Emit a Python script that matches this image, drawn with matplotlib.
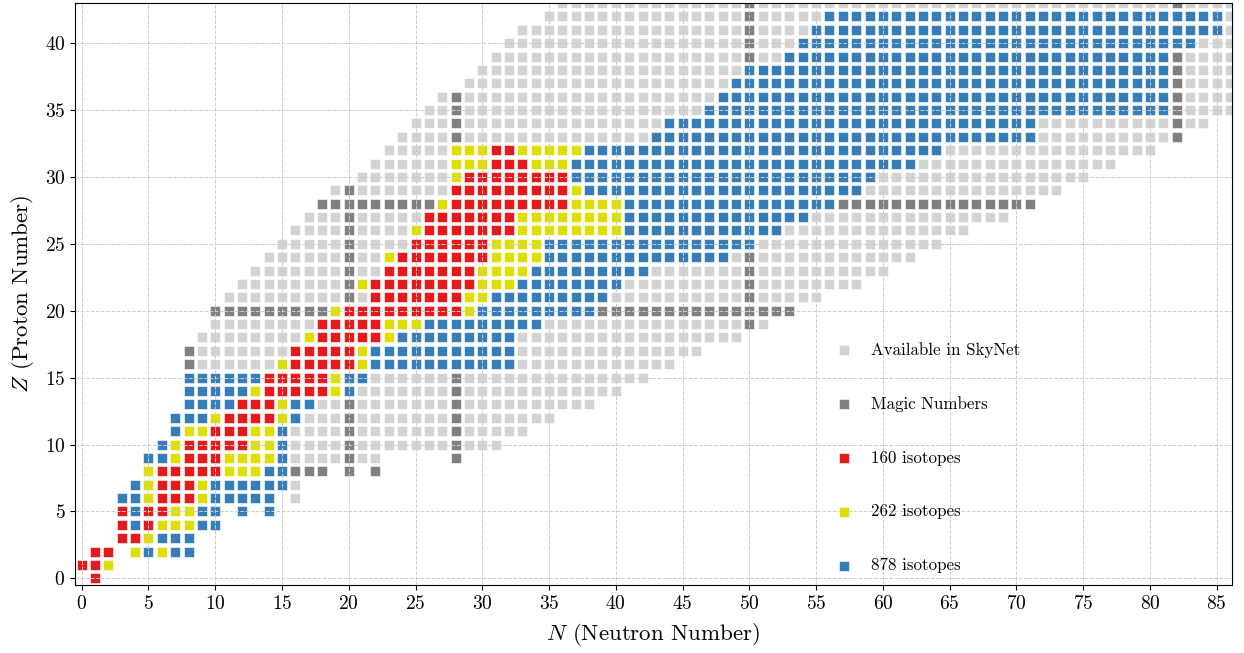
import numpy as np
import matplotlib.pyplot as plt

plt.rcParams['font.family'] = 'cmr10'
plt.rcParams['mathtext.fontset'] = 'cm'
plt.rcParams['axes.formatter.use_mathtext'] = True

# (Z, N_low, N_high) segments
available_rows = [
    (0, 1, 1), (1, 0, 2), (2, 1, 2), (2, 4, 8), (3, 3, 8), (4, 3, 10),
    (5, 3, 10), (5, 12, 12), (5, 14, 14), (6, 3, 14), (6, 16, 16), (7, 4, 16),
    (8, 5, 18), (8, 20, 20), (8, 22, 22), (9, 5, 22), (9, 28, 28),
    (10, 6, 31), (11, 7, 33), (12, 7, 35), (13, 8, 38), (14, 8, 40),
    (15, 8, 42), (16, 8, 44), (17, 8, 46), (18, 9, 49), (19, 10, 51),
    (20, 10, 53), (21, 11, 55), (22, 12, 58), (23, 13, 60), (24, 14, 62),
    (25, 15, 64), (26, 16, 66), (27, 17, 69), (28, 18, 71), (29, 19, 73),
    (30, 21, 75), (31, 22, 77), (32, 23, 80), (33, 24, 82), (34, 25, 84),
    (35, 26, 86), (36, 27, 86), (37, 29, 86), (38, 30, 86), (39, 31, 86),
    (40, 32, 86), (41, 33, 86), (42, 35, 86), (43, 36, 86),
]

red_rows = [
    (0, 1, 1), (1, 0, 1), (2, 1, 2), (3, 3, 4), (4, 3, 3), (4, 5, 5),
    (5, 3, 3), (5, 5, 6), (6, 6, 8), (7, 6, 8), (8, 6, 10), (9, 8, 10),
    (10, 8, 12), (11, 10, 12), (12, 11, 14), (13, 12, 14), (14, 14, 18),
    (15, 14, 18), (16, 16, 20), (17, 16, 20), (18, 18, 22), (19, 18, 22),
    (20, 20, 28), (21, 22, 28), (22, 22, 29), (23, 23, 29), (24, 24, 30),
    (25, 25, 30), (26, 26, 32), (27, 26, 32), (28, 28, 36), (29, 28, 36),
    (30, 29, 36), (31, 31, 33), (32, 31, 32),
]

yellow_rows = [
    (1, 2, 2), (2, 4, 4), (2, 6, 6), (3, 5, 5), (4, 6, 8), (5, 7, 8),
    (6, 5, 5), (6, 9, 9), (7, 5, 5), (7, 9, 9), (8, 5, 5), (8, 11, 13),
    (9, 7, 7), (9, 11, 14), (10, 7, 7), (10, 13, 14), (11, 8, 9), (11, 13, 14),
    (12, 10, 10), (12, 15, 15), (13, 15, 15), (14, 13, 13), (14, 19, 19),
    (15, 19, 19), (16, 15, 15), (16, 21, 21), (17, 21, 21), (18, 17, 17),
    (18, 23, 23), (19, 23, 25), (20, 19, 19), (20, 29, 29), (21, 29, 30),
    (22, 21, 21), (22, 30, 32), (23, 30, 33), (24, 23, 23), (24, 31, 34),
    (25, 31, 34), (26, 25, 25), (26, 33, 40), (27, 33, 40), (28, 27, 27),
    (28, 37, 40), (29, 37, 37), (30, 28, 28), (31, 28, 30), (31, 34, 36),
    (32, 28, 30), (32, 33, 37),
]

blue_rows = [
    (2, 5, 5), (2, 7, 8), (3, 6, 8), (4, 4, 4), (4, 9, 10), (5, 4, 4),
    (5, 9, 10), (5, 12, 12), (5, 14, 14), (6, 3, 4), (6, 10, 14), (7, 4, 4),
    (7, 10, 15), (8, 14, 15), (9, 5, 6), (9, 15, 15), (10, 6, 6), (10, 15, 15),
    (11, 7, 7), (11, 15, 15), (12, 7, 9), (12, 16, 16), (13, 8, 11),
    (13, 16, 17), (14, 8, 12), (14, 20, 20), (15, 8, 13), (15, 20, 21),
    (16, 22, 32), (17, 22, 32), (18, 24, 32), (19, 26, 34), (20, 30, 38),
    (21, 31, 39), (22, 33, 40), (23, 34, 42), (24, 35, 48), (25, 35, 50),
    (26, 41, 52), (27, 41, 54), (28, 41, 56), (29, 38, 58), (30, 37, 59),
    (31, 37, 62), (32, 38, 64), (33, 43, 71), (34, 44, 71), (35, 47, 81),
    (36, 48, 81), (37, 49, 81), (38, 50, 81), (39, 53, 81), (40, 54, 83),
    (41, 55, 85), (42, 56, 85),
]

magic_numbers = [2, 8, 20, 28, 50, 82, 126]


def expand(rows):
    """Turn (Z, Nlo, Nhi) segments into a set of (N, Z) cells."""
    cells = set()
    for z, lo, hi in rows:
        for n in range(lo, hi + 1):
            cells.add((n, z))
    return cells


available = expand(available_rows)
red = expand(red_rows)
yellow = expand(yellow_rows)
blue = expand(blue_rows)
colored = red | yellow | blue
magic = {c for c in available - colored
         if c[0] in magic_numbers or c[1] in magic_numbers}
plain = available - colored - magic

layers = [
    (plain, 'lightgray', 'Available in SkyNet'),
    (magic, 'gray', 'Magic Numbers'),
    (red, '#e41a1c', '160 isotopes'),
    (yellow, '#dede00', '262 isotopes'),
    (blue, '#377eb8', '878 isotopes'),
]

fig = plt.figure(figsize=(12.44, 6.53), dpi=100)
ax = fig.add_axes([0.0603, 0.1041, 0.9301, 0.8913])

for cells, color, label in layers:
    pts = np.array(sorted(cells))
    ax.scatter(pts[:, 0], pts[:, 1], marker='s', s=60, c=color,
               edgecolors='white', linewidths=0.4, label=label, zorder=2)

ax.set_xlim(-0.5, 86.15)
ax.set_ylim(-0.5, 43.0)
ax.set_xticks(range(0, 86, 5))
ax.set_yticks(range(0, 41, 5))
ax.tick_params(labelsize=14)
ax.grid(True, ls='--', color='#cccccc', lw=0.7)
ax.set_axisbelow(False)

ax.set_xlabel('$N$ (Neutron Number)', fontsize=16.5, labelpad=6)
ax.set_ylabel('$Z$ (Proton Number)', fontsize=16.5, labelpad=6)

ax.legend(loc='center left', bbox_to_anchor=(0.637, 0.219), frameon=False,
          fontsize=12.2, labelspacing=2.27, handletextpad=0.6, scatterpoints=1)

fig.savefig('out.png', dpi=100)
